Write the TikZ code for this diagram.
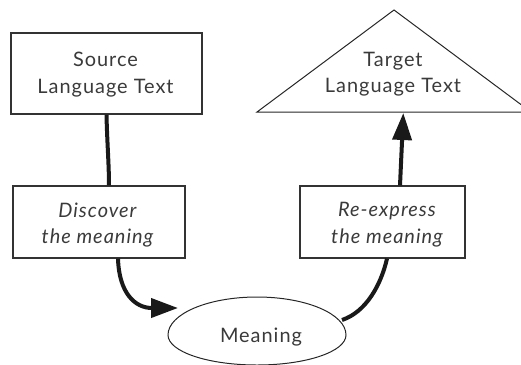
\documentclass[tikz,border=0pt]{standalone}
\usepackage{fontspec}
\setmainfont{Lato}[LetterSpace=5]
\usetikzlibrary{arrows.meta}
\definecolor{inkgray}{HTML}{3A3A3A}
\definecolor{framegray}{HTML}{333333}
\begin{document}
\begin{tikzpicture}[x=1bp,y=-1bp,
  stagebox/.style={draw=framegray, line width=1.1bp, inner sep=0pt},
  caption/.style={text=inkgray, font=\fontsize{20}{27}\selectfont, align=center, inner sep=0pt},
  icaption/.style={caption, font=\fontsize{20}{27}\selectfont\itshape},
  conn/.style={line width=4bp, draw=black!90},
  tip/.style={-{Triangle[length=27bp,width=19bp]}}]
\useasboundingbox (0,0) rectangle (521,364);
\clip (0,0) rectangle (521,364);

% stage boxes
\node[stagebox, minimum width=191bp, minimum height=81bp] (src) at (106.5,73.5) {};
\node[stagebox, minimum width=172bp, minimum height=72bp] (disc) at (99,222) {};
\node[stagebox, minimum width=165bp, minimum height=72bp] (reexp) at (382.5,222) {};

% target triangle
\coordinate (apex) at (394,10);
\coordinate (tleft) at (257,112);
\coordinate (tright) at (531,112);
\draw[line width=1bp, black!85] (tleft) -- (apex) -- (tright) -- cycle;

% meaning oval, slightly flatter below
\draw[line width=1bp, black!85]
  (168,335) .. controls (168,314) and (207.8,297) .. (257,297)
            .. controls (306.2,297) and (346,314) .. (346,335)
            .. controls (346,351.6) and (306.2,365) .. (257,365)
            .. controls (207.8,365) and (168,351.6) .. (168,335) -- cycle;

% labels
\node[caption] (srctext) at (105.5,74.5) {Source\\Language Text};
\node[caption] (tgttext) at (393,74.2) {Target\\Language Text};
\node[icaption] (disctext) at (97.5,225) {Discover\\the meaning};
\node[icaption] (reexptext) at (387,225) {Re-express\\the meaning};
\node[caption] (meantext) at (261,336.7) {Meaning};

% connector ends on the oval and the triangle
\coordinate (meanin) at (178,308);
\coordinate (meanout) at (342,320);
\coordinate (tgtbase) at (403.3,113);

% connectors
\draw[conn] (src.south) .. controls (107,140) and (109,165) .. ([xshift=10bp]disc.north);
\draw[conn, tip] ([xshift=19bp]disc.south) .. controls (119,293) and (135,308) .. (meanin);
\draw[conn] (meanout) .. controls (366,312) and (381,285) .. ([xshift=4.5bp]reexp.south);
\draw[conn, tip] ([xshift=17.5bp]reexp.north) -- (tgtbase);
\end{tikzpicture}
\end{document}
